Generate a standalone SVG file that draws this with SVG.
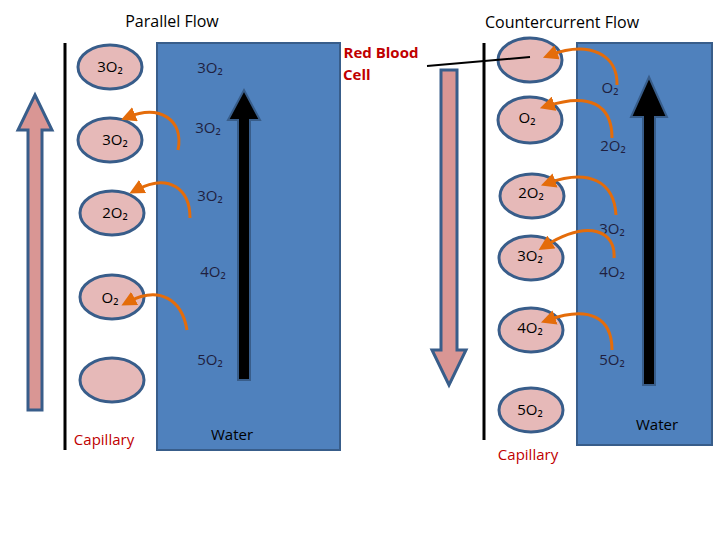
<svg xmlns="http://www.w3.org/2000/svg" width="720" height="540" viewBox="0 0 720 540">
<defs>
<style>
text{font-family:"Open Sans","DejaVu Sans",sans-serif;font-size:15px;text-anchor:middle}
.t{font-size:16px}
.rbc{fill:#e6b9b8;stroke:#385d8a;stroke-width:3}
.o{fill:none;stroke:#e46c0a;stroke-width:3;marker-end:url(#ah)}
.cap{fill:#c00000}
.blue{fill:#4f81bd;stroke:#385d8a;stroke-width:2}
</style>
<marker id="ah" markerWidth="5" markerHeight="5" refX="2.5" refY="2.5" orient="auto" markerUnits="strokeWidth"><path d="M0,0L5,2.5L0,5z" fill="#e46c0a"/></marker>
</defs>
<text class="t" x="172" y="27">Parallel Flow</text>
<text class="t" x="562" y="28">Countercurrent Flow</text>
<g id="left">
<rect class="blue" x="157" y="43" width="183" height="407"/>
<line x1="65" y1="43" x2="65" y2="450" stroke="#000" stroke-width="3"/>
<path d="M28,410V130H18L35,95L52,130H42V410z" fill="#d99694" stroke="#385d8a" stroke-width="3"/>
<path d="M238,380V120H228L244,90L260,120H250V380z" fill="#000" stroke="#385d8a" stroke-width="2"/>
<ellipse class="rbc" cx="110" cy="67" rx="32" ry="22"/>
<ellipse class="rbc" cx="110" cy="140" rx="32" ry="22"/>
<ellipse class="rbc" cx="112" cy="213" rx="32" ry="22"/>
<ellipse class="rbc" cx="112" cy="297" rx="32" ry="22"/>
<ellipse class="rbc" cx="112" cy="380" rx="32" ry="22"/>
<text x="110" y="72">3O₂</text><text x="115" y="145">3O₂</text><text x="115" y="218">2O₂</text><text x="110" y="303">O₂</text>
<g fill="#1f1f3f"><text x="210" y="73">3O₂</text><text x="208" y="133">3O₂</text><text x="210" y="201">3O₂</text><text x="213" y="277">4O₂</text><text x="210" y="365">5O₂</text></g>
<path class="o" d="M178,150C184,120 160,104 128,117"/>
<path class="o" d="M190,218C190,190 170,172 136,190"/>
<path class="o" d="M187,330C182,300 160,285 128,302"/>
<rect x="203" y="423" width="66" height="26" fill="#4f81bd"/>
<text x="232" y="440">Water</text>
<text class="cap" x="104" y="445">Capillary</text>
</g>
<g id="right">
<rect class="blue" x="577" y="43" width="135" height="402"/>
<line x1="484" y1="43" x2="484" y2="440" stroke="#000" stroke-width="3"/>
<path d="M441,70V350H432L449,385L466,350H457V70z" fill="#d99694" stroke="#385d8a" stroke-width="3"/>
<path d="M643,385V117H631L649,77L667,117H655V385z" fill="#000" stroke="#385d8a" stroke-width="2"/>
<ellipse class="rbc" cx="530" cy="60" rx="32" ry="22"/>
<ellipse class="rbc" cx="530" cy="120" rx="32" ry="23"/>
<ellipse class="rbc" cx="532" cy="196" rx="32" ry="22"/>
<ellipse class="rbc" cx="531" cy="258" rx="32" ry="22"/>
<ellipse class="rbc" cx="531" cy="330" rx="32" ry="22"/>
<ellipse class="rbc" cx="531" cy="410" rx="32" ry="22"/>
<text x="527" y="123">O₂</text><text x="531" y="198">2O₂</text><text x="530" y="261">3O₂</text><text x="530" y="333">4O₂</text><text x="530" y="415">5O₂</text>
<g fill="#1f1f3f"><text x="610" y="93">O₂</text><text x="613" y="151">2O₂</text><text x="612" y="234">3O₂</text><text x="612" y="277">4O₂</text><text x="612" y="365">5O₂</text></g>
<path class="o" d="M617,85C618,55 590,40 550,55"/>
<path class="o" d="M612,138C612,105 590,92 547,106"/>
<path class="o" d="M616,215C614,182 590,168 548,183"/>
<path class="o" d="M614,258C616,232 590,218 545,246"/>
<path class="o" d="M612,350C612,318 590,305 548,320"/>
<line x1="427" y1="66" x2="530" y2="57" stroke="#000" stroke-width="2"/>
<g class="cap" font-weight="bold"><text x="381" y="58">Red Blood</text><text x="343" y="80" style="text-anchor:start">Cell</text></g>
<rect x="620" y="411" width="75" height="28" fill="#4f81bd"/>
<text x="657" y="430">Water</text>
<text class="cap" x="528" y="460">Capillary</text>
</g>
</svg>
